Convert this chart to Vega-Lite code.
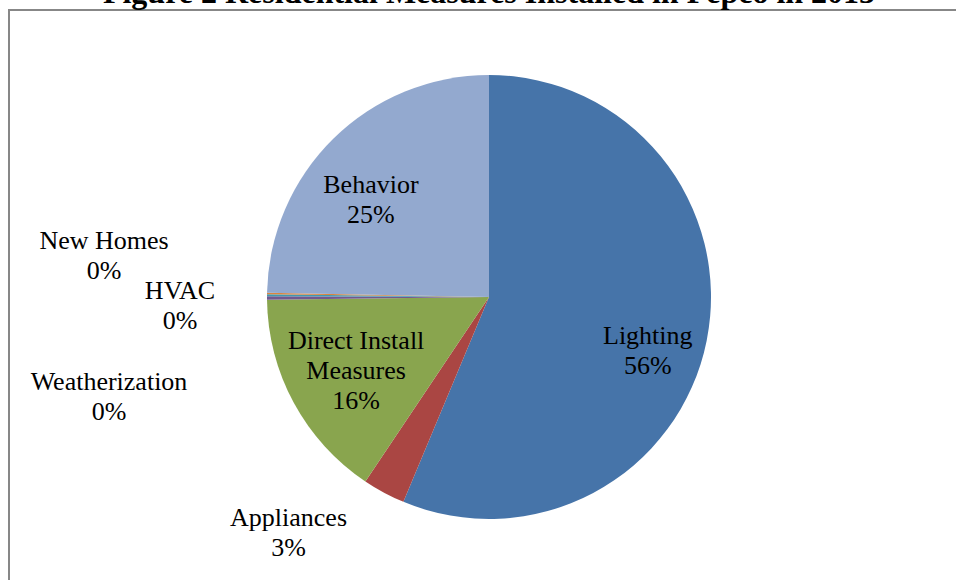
{
  "$schema": "https://vega.github.io/schema/vega-lite/v6.json",
  "autosize": {"type": "none"},
  "padding": {"left": 9, "top": 10, "right": -13, "bottom": -4},
  "width": 960,
  "height": 574,
  "background": "white",
  "view": {"stroke": "#878787", "strokeWidth": 2, "fill": "white"},
  "data": {
    "values": [
      {"idx": 1, "category": "Lighting", "share": 56.3, "label": "Lighting\n56%"},
      {"idx": 2, "category": "Appliances", "share": 3.1, "label": "Appliances\n3%"},
      {"idx": 3, "category": "Direct Install Measures", "share": 15.4, "label": "Direct Install\nMeasures\n16%"},
      {"idx": 4, "category": "Weatherization", "share": 0.25, "label": "Weatherization\n0%"},
      {"idx": 5, "category": "HVAC", "share": 0.15, "label": "HVAC\n0%"},
      {"idx": 6, "category": "New Homes", "share": 0.1, "label": "New Homes\n0%"},
      {"idx": 7, "category": "Behavior", "share": 24.7, "label": "Behavior\n25%"}
    ]
  },
  "layer": [
    {
      "mark": {"type": "arc", "radius": 222},
      "encoding": {
        "theta": {"field": "share", "type": "quantitative", "stack": true, "scale": {"domain": [0, 100]}},
        "order": {"field": "idx", "type": "quantitative"},
        "color": {
          "field": "category",
          "type": "nominal",
          "legend": null,
          "scale": {
            "domain": ["Lighting", "Appliances", "Direct Install Measures", "Weatherization", "HVAC", "New Homes", "Behavior"],
            "range": ["#4674A9", "#AA4643", "#89A54E", "#71588F", "#4198AF", "#DB843D", "#93A9CF"]
          }
        }
      }
    },
    {
      "mark": {"type": "text", "radius": 165, "dx": -3, "dy": 7, "font": "Liberation Serif", "fontSize": 26, "lineHeight": 30, "align": "center", "baseline": "middle", "color": "black", "lineBreak": "\n"},
      "encoding": {
        "theta": {"field": "share", "type": "quantitative", "stack": true, "scale": {"domain": [0, 100]}},
        "order": {"field": "idx", "type": "quantitative"},
        "text": {"condition": {"test": "datum.category === 'Lighting'", "field": "label"}, "value": ""}
      }
    },
    {
      "mark": {"type": "text", "radius": 160, "dx": -6, "dy": 2, "font": "Liberation Serif", "fontSize": 26, "lineHeight": 30, "align": "center", "baseline": "middle", "color": "black", "lineBreak": "\n"},
      "encoding": {
        "theta": {"field": "share", "type": "quantitative", "stack": true, "scale": {"domain": [0, 100]}},
        "order": {"field": "idx", "type": "quantitative"},
        "text": {"condition": {"test": "datum.category === 'Behavior'", "field": "label"}, "value": ""}
      }
    },
    {
      "mark": {"type": "text", "radius": 150, "dx": -1, "dy": -27, "font": "Liberation Serif", "fontSize": 26, "lineHeight": 30, "align": "center", "baseline": "middle", "color": "black", "lineBreak": "\n"},
      "encoding": {
        "theta": {"field": "share", "type": "quantitative", "stack": true, "scale": {"domain": [0, 100]}},
        "order": {"field": "idx", "type": "quantitative"},
        "text": {"condition": {"test": "datum.category === 'Direct Install Measures'", "field": "label"}, "value": ""}
      }
    },
    {
      "mark": {"type": "text", "radius": 265, "dx": -75, "dy": -12, "font": "Liberation Serif", "fontSize": 26, "lineHeight": 30, "align": "center", "baseline": "middle", "color": "black", "lineBreak": "\n"},
      "encoding": {
        "theta": {"field": "share", "type": "quantitative", "stack": true, "scale": {"domain": [0, 100]}},
        "order": {"field": "idx", "type": "quantitative"},
        "text": {"condition": {"test": "datum.category === 'Appliances'", "field": "label"}, "value": ""}
      }
    },
    {
      "mark": {"type": "text", "radius": 380, "dx": 0, "dy": 83, "font": "Liberation Serif", "fontSize": 26, "lineHeight": 30, "align": "center", "baseline": "middle", "color": "black", "lineBreak": "\n"},
      "encoding": {
        "theta": {"field": "share", "type": "quantitative", "stack": true, "scale": {"domain": [0, 100]}},
        "order": {"field": "idx", "type": "quantitative"},
        "text": {"condition": {"test": "datum.category === 'Weatherization'", "field": "label"}, "value": ""}
      }
    },
    {
      "mark": {"type": "text", "radius": 309, "dx": 0, "dy": -4, "font": "Liberation Serif", "fontSize": 26, "lineHeight": 30, "align": "center", "baseline": "middle", "color": "black", "lineBreak": "\n"},
      "encoding": {
        "theta": {"field": "share", "type": "quantitative", "stack": true, "scale": {"domain": [0, 100]}},
        "order": {"field": "idx", "type": "quantitative"},
        "text": {"condition": {"test": "datum.category === 'HVAC'", "field": "label"}, "value": ""}
      }
    },
    {
      "mark": {"type": "text", "radius": 385, "dx": 0, "dy": -50, "font": "Liberation Serif", "fontSize": 26, "lineHeight": 30, "align": "center", "baseline": "middle", "color": "black", "lineBreak": "\n"},
      "encoding": {
        "theta": {"field": "share", "type": "quantitative", "stack": true, "scale": {"domain": [0, 100]}},
        "order": {"field": "idx", "type": "quantitative"},
        "text": {"condition": {"test": "datum.category === 'New Homes'", "field": "label"}, "value": ""}
      }
    },
    {
      "data": {"values": [{"title": "Figure 2 Residential Measures Installed in Pepco in 2013"}]},
      "mark": {"type": "text", "theta": 0, "radius": 294, "font": "Liberation Serif", "fontSize": 32, "fontWeight": "bold", "align": "center", "baseline": "alphabetic", "color": "black"},
      "encoding": {"text": {"field": "title", "type": "nominal"}}
    }
  ],
  "config": {
    "view": {"stroke": "#878787", "strokeWidth": 2},
    "style": {"cell": {"stroke": "#878787", "strokeWidth": 2}}
  }
}
